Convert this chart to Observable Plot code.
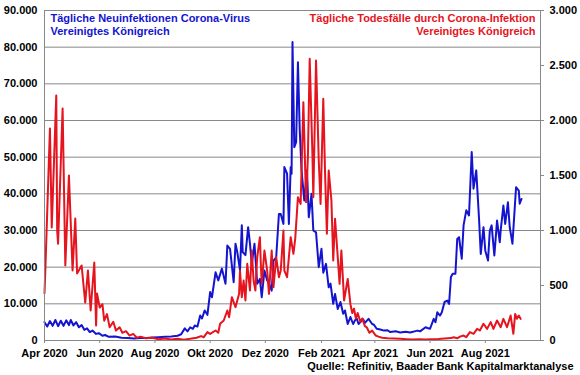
<!DOCTYPE html>
<html>
<head>
<meta charset="utf-8">
<script src="https://cdn.jsdelivr.net/npm/d3@7"></script>
<script src="https://cdn.jsdelivr.net/npm/@observablehq/plot@0.6"></script>
<style>
  html, body { margin: 0; padding: 0; background: #fff; }
  #chart svg { display: block; }
</style>
</head>
<body>
<div id="chart"></div>
<script>
// ---- Data ----
const caseDates = [
"2020-04-01","2020-04-04","2020-04-07","2020-04-10","2020-04-13","2020-04-16","2020-04-19","2020-04-22","2020-04-25","2020-04-28","2020-04-30",
"2020-05-03","2020-05-06","2020-05-09","2020-05-12","2020-05-15","2020-05-18","2020-05-21","2020-05-24","2020-05-28","2020-05-31",
"2020-06-04","2020-06-07","2020-06-11","2020-06-18","2020-06-25","2020-07-02","2020-07-09","2020-07-16","2020-07-23","2020-07-29",
"2020-08-05","2020-08-12","2020-08-19","2020-08-26","2020-08-30","2020-09-03","2020-09-06","2020-09-09","2020-09-12","2020-09-14",
"2020-09-17","2020-09-20","2020-09-22","2020-09-25","2020-09-28","2020-10-01","2020-10-03","2020-10-07","2020-10-10","2020-10-14",
"2020-10-18","2020-10-20","2020-10-23","2020-10-27","2020-10-29","2020-10-31","2020-11-03","2020-11-05","2020-11-06","2020-11-09",
"2020-11-12","2020-11-14","2020-11-16","2020-11-19","2020-11-22","2020-11-25","2020-11-27","2020-11-30","2020-12-03","2020-12-06",
"2020-12-08","2020-12-10","2020-12-13","2020-12-16","2020-12-18","2020-12-21","2020-12-22","2020-12-25","2020-12-27","2020-12-29",
"2020-12-30","2020-12-31","2021-01-02","2021-01-04","2021-01-06","2021-01-08","2021-01-10","2021-01-13","2021-01-16","2021-01-18",
"2021-01-21","2021-01-23","2021-01-26","2021-01-29","2021-02-01","2021-02-03","2021-02-06","2021-02-09","2021-02-11","2021-02-14",
"2021-02-16","2021-02-19","2021-02-22","2021-02-25","2021-02-27","2021-03-02","2021-03-05","2021-03-08","2021-03-10","2021-03-12",
"2021-03-14","2021-03-16","2021-03-19","2021-03-21","2021-03-25","2021-03-29","2021-03-31","2021-04-03","2021-04-07","2021-04-11",
"2021-04-15","2021-04-18","2021-04-24","2021-04-29","2021-05-05","2021-05-10","2021-05-18","2021-05-21","2021-05-27","2021-05-29",
"2021-06-01","2021-06-05","2021-06-07","2021-06-09","2021-06-12","2021-06-14","2021-06-17","2021-06-20","2021-06-22","2021-06-24",
"2021-06-26","2021-06-29","2021-07-01","2021-07-03","2021-07-06","2021-07-08","2021-07-11","2021-07-14","2021-07-17","2021-07-19",
"2021-07-22","2021-07-25","2021-07-27","2021-07-30","2021-08-01","2021-08-04","2021-08-06","2021-08-08","2021-08-11","2021-08-14",
"2021-08-17","2021-08-18","2021-08-21","2021-08-23","2021-08-26","2021-08-28","2021-08-31","2021-09-02","2021-09-04","2021-09-07",
"2021-09-08","2021-09-10"
];
const cases = [
5000,3800,5300,4000,5600,3900,5400,4000,5500,4200,5600,
4100,5000,3600,4200,2900,3300,2300,2700,1800,2000,
1300,1500,1000,1100,750,700,550,700,650,800,
900,1000,1100,1300,1700,3300,2500,3600,3200,4100,
3800,6800,6000,8200,7000,13200,11800,18600,16400,19600,
15500,25900,25000,15900,26400,24100,19100,31400,24100,23300,
30900,26400,20900,26400,15500,16800,11800,19100,16400,15000,
13600,21800,22700,34500,34500,31800,47300,45500,31800,47300,
45500,81400,52700,54100,75900,57300,46400,38200,46400,33600,
40000,30000,29500,20000,25000,18500,20900,14500,15500,10000,
12700,8600,10500,7300,8200,4500,6400,4500,5500,6000,
4500,5000,5800,4800,5900,4500,4300,3200,3000,2700,
2800,2300,2500,2200,2400,2200,2700,2500,3600,3400,
3200,5900,5000,7700,6800,7700,10500,10900,10000,17300,
18200,18200,27700,28200,22300,31400,35500,34100,51400,41400,
46400,33600,23600,30900,24500,21800,30000,31400,23200,32700,
26800,30000,36800,31800,37700,30900,26400,34100,41800,40900,
37300,38600
];

const deathDates = [
"2020-04-01","2020-04-02","2020-04-07","2020-04-09","2020-04-14","2020-04-15","2020-04-16","2020-04-21","2020-04-24","2020-04-28",
"2020-05-02","2020-05-05","2020-05-07","2020-05-12","2020-05-16","2020-05-19","2020-05-22","2020-05-26","2020-05-28","2020-05-29",
"2020-06-01","2020-06-04","2020-06-06","2020-06-09","2020-06-12","2020-06-16","2020-06-19","2020-06-23","2020-06-26","2020-06-30",
"2020-07-04","2020-07-08","2020-07-12","2020-07-16","2020-07-22","2020-07-29","2020-08-05","2020-08-12","2020-08-19","2020-08-26",
"2020-09-02","2020-09-09","2020-09-16","2020-09-21","2020-09-24","2020-09-28","2020-10-01","2020-10-07","2020-10-10","2020-10-12",
"2020-10-16","2020-10-20","2020-10-22","2020-10-25","2020-10-29","2020-11-02","2020-11-03","2020-11-05","2020-11-07","2020-11-09",
"2020-11-11","2020-11-14","2020-11-16","2020-11-18","2020-11-20","2020-11-22","2020-11-25","2020-11-26","2020-11-27","2020-11-30",
"2020-12-03","2020-12-05","2020-12-08","2020-12-10","2020-12-13","2020-12-16","2020-12-18","2020-12-21","2020-12-22","2020-12-25",
"2020-12-29","2021-01-01","2021-01-03","2021-01-06","2021-01-09","2021-01-12","2021-01-15","2021-01-17","2021-01-19","2021-01-22",
"2021-01-23","2021-01-26","2021-01-29","2021-01-31","2021-02-03","2021-02-05","2021-02-07","2021-02-09","2021-02-12","2021-02-14",
"2021-02-16","2021-02-19","2021-02-21","2021-02-23","2021-02-26","2021-03-02","2021-03-05","2021-03-07","2021-03-09","2021-03-11",
"2021-03-13","2021-03-16","2021-03-18","2021-03-21","2021-03-23","2021-03-26","2021-03-29","2021-04-02","2021-04-05","2021-04-09",
"2021-04-15","2021-04-22","2021-04-29","2021-05-06","2021-05-13","2021-05-20","2021-05-27","2021-06-03","2021-06-10","2021-06-17",
"2021-06-24","2021-06-27","2021-07-01","2021-07-04","2021-07-08","2021-07-11","2021-07-15","2021-07-19","2021-07-23","2021-07-26",
"2021-07-30","2021-08-03","2021-08-07","2021-08-10","2021-08-14","2021-08-18","2021-08-21","2021-08-25","2021-08-29","2021-09-01",
"2021-09-03","2021-09-05","2021-09-07","2021-09-09"
];
const deaths = [
430,660,1927,1027,2227,1000,880,2109,682,1500,
636,1109,609,682,345,636,273,709,136,427,
300,330,180,240,120,170,90,120,70,85,
45,60,25,35,20,25,12,18,10,15,
8,15,25,40,30,76,60,91,70,152,
182,273,212,394,303,424,636,394,545,364,
697,455,818,545,455,757,939,697,515,818,
636,424,818,485,757,576,636,1000,636,576,
939,788,924,1303,1242,2167,1258,1667,2561,1697,
1303,2545,1636,1242,2197,1515,970,1545,1273,727,
1106,757,515,818,364,560,330,250,290,200,
250,170,200,130,120,70,90,45,35,25,
20,18,15,12,10,12,10,12,14,18,
22,30,20,35,45,30,76,61,106,91,
152,106,167,106,182,121,197,121,227,61,
242,197,227,197
];

const leftTicks = [0,10000,20000,30000,40000,50000,60000,70000,80000,90000];
const rightTicks = [0,500,1000,1500,2000,2500,3000];
const xTickDates = ["2020-04-01","2020-06-01","2020-08-01","2020-10-01","2020-12-01","2021-02-01","2021-04-01","2021-06-01","2021-08-01"];
const xTickLabels = ["Apr 2020","Jun 2020","Aug 2020","Okt 2020","Dez 2020","Feb 2021","Apr 2021","Jun 2021","Aug 2021"];
const xDomain = ["2020-04-01","2021-10-01"];

const titleLeft = "Tägliche Neuinfektionen Corona-Virus\nVereinigtes Königreich";
const titleRight = "Tägliche Todesfälle durch Corona-Infektion\nVereinigtes Königreich";
const caption = "Quelle: Refinitiv, Baader Bank Kapitalmarktanalyse";

// ---- Build ----
const blue = "#1414d0";
const red = "#e5141e";
const gridGray = "#888888";
const ratio = 90000 / 3000; // left scale / right scale

const parse = d3.utcParse("%Y-%m-%d");
const caseData = caseDates.map((d, i) => ({date: parse(d), v: cases[i]}));
const deathData = deathDates.map((d, i) => ({date: parse(d), v: deaths[i]}));
const xTicks = xTickDates.map(parse);
const labelOf = new Map(xTicks.map((d, i) => [+d, xTickLabels[i]]));

const de = d3.formatLocale({decimal: ",", thousands: ".", grouping: [3], currency: ["", "€"]});
const fmt = de.format(",");

const font = "'Liberation Sans', Arial, sans-serif";

const chart = Plot.plot({
  width: 580,
  height: 375,
  marginLeft: 44,
  marginRight: 40,
  marginTop: 10,
  marginBottom: 35,
  style: {fontFamily: font, fontSize: "11px", fontWeight: "bold", background: "#fff", color: "#000", overflow: "visible"},
  x: {type: "utc", domain: xDomain.map(parse)},
  y: {domain: [0, 90000]},
  marks: [
    Plot.gridY(leftTicks, {stroke: gridGray, strokeOpacity: 1, strokeWidth: 1}),
    Plot.line(caseData, {x: "date", y: "v", stroke: blue, strokeWidth: 2, strokeLinejoin: "round"}),
    Plot.line(deathData, {x: "date", y: d => d.v * ratio, stroke: red, strokeWidth: 2, strokeLinejoin: "round"}),
    Plot.frame({stroke: gridGray, strokeWidth: 1}),
    Plot.axisY(leftTicks, {anchor: "left", tickSize: 0, tickPadding: 7, tickFormat: fmt, label: null, fill: "#000", fontSize: 11, fontWeight: "bold"}),
    Plot.axisY(rightTicks.map(v => v * ratio), {anchor: "right", tickSize: 3, tickPadding: 6, stroke: gridGray, tickFormat: v => fmt(v / ratio), label: null, fill: "#000", fontSize: 11, fontWeight: "bold"}),
    Plot.axisX(xTicks, {anchor: "bottom", tickSize: 3, tickPadding: 6, stroke: gridGray, tickFormat: d => labelOf.get(+d), label: null, fill: "#000", fontSize: 11, fontWeight: "bold"}),
    Plot.text([titleLeft], {frameAnchor: "top-left", dx: 6, dy: 3, text: d => d, textAnchor: "start", lineAnchor: "top", lineHeight: 1.13, fill: blue, fontSize: 11, fontWeight: "bold"}),
    Plot.text([titleRight], {frameAnchor: "top-right", dx: -5, dy: 3, text: d => d, textAnchor: "end", lineAnchor: "top", lineHeight: 1.13, fill: red, fontSize: 11, fontWeight: "bold"}),
    Plot.text([caption], {frameAnchor: "bottom-right", dx: 33, dy: 22, text: d => d, textAnchor: "end", lineAnchor: "top", fill: "#000", fontSize: 11, fontWeight: "bold"})
  ]
});
document.getElementById("chart").appendChild(chart);
</script>
</body>
</html>
